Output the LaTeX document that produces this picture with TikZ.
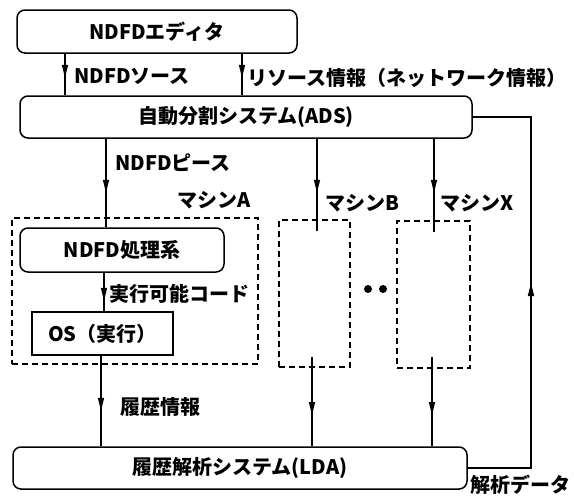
\documentclass[tikz,border=0pt]{standalone}
\usepackage{fontspec}
\setmainfont{Noto Sans CJK JP}
\usetikzlibrary{arrows.meta,decorations.markings}
\begin{document}
\begin{tikzpicture}[x=1pt,y=-1pt,
  every node/.style={font=\fontsize{20}{22}\selectfont\bfseries, inner sep=0pt},
  box/.style={draw, line width=1.5pt, rounded corners=8pt},
  sq/.style={draw, line width=1.5pt},
  mach/.style={draw, line width=1.3pt, dash pattern=on 6pt off 4pt},
  conn/.style={line width=1.3pt},
  mid/.style={postaction={decorate}, decoration={markings, mark=at position #1 with {\arrow{Triangle[length=13pt,width=6pt]}}}},
  lbl/.style={anchor=west}]
\useasboundingbox (0,0) rectangle (574,499);

% boxes
\node[box, minimum width=280pt, minimum height=43pt] (editor) at (157,31.5) {NDFDエディタ};
\node[box, minimum width=452pt, minimum height=42pt] (ads) at (246,117) {自動分割システム(ADS)};
\node[box, minimum width=454pt, minimum height=42pt] (lda) at (240,468) {履歴解析システム(LDA)};

\node[mach, minimum width=246pt, minimum height=146pt] (ma) at (135,291) {};
\node[mach, minimum width=71pt, minimum height=147pt] (mb) at (314.5,293.5) {};
\node[mach, minimum width=73pt, minimum height=147pt] (mx) at (433.5,294.5) {};

\node[box, minimum width=204pt, minimum height=44pt] (proc) at (122,250) {NDFD処理系};
\node[sq, minimum width=141pt, minimum height=43pt] (os) at (102.5,333.5) {OS（実行）};

% coordinates for connector x positions
\coordinate (xa) at (65,0);
\coordinate (xb) at (242,0);
\coordinate (xc) at (106,0);
\coordinate (xd) at (104,0);
\coordinate (xe) at (101,0);
\coordinate (bin) at (317,231);
\coordinate (xin) at (434,232);
\coordinate (bout) at (312,357);
\coordinate (xout) at (432,357);
\coordinate (fb) at (531,0);

% connectors
\draw[conn, mid=24pt] (editor.south -| xa) -- (ads.north -| xa);
\draw[conn, mid=24pt] (editor.south -| xb) -- (ads.north -| xb);
\draw[conn, mid=54pt] (ads.south -| xc) -- (proc.north -| xc);
\draw[conn, mid=54pt] (ads.south -| bin) -- (bin);
\draw[conn, mid=54pt] (ads.south -| xin) -- (xin);
\draw[conn, mid=28pt] (proc.south -| xd) -- (os.north -| xd);
\draw[conn, mid=55pt] (os.south -| xe) -- (lda.north -| xe);
\draw[conn, mid=58pt] (bout) -- (lda.north -| bout);
\draw[conn, mid=58pt] (xout) -- (lda.north -| xout);
\draw[conn, line join=miter] (lda.east) -- (lda.east -| fb) -- (ads.east -| fb) -- (ads.east);
\draw[conn, mid=185pt] (lda.east -| fb) -- (ads.east -| fb);

% labels
\node[lbl] (l1) at (74,76) {NDFDソース};
\node[lbl] (l2) at (247,78) {リソース情報（ネットワーク情報）};
\node[lbl] (l3) at (115,163) {NDFDピース};
\node[lbl] (l4) at (177,200) {マシンA};
\node[lbl] (l5) at (325,203) {マシンB};
\node[lbl] (l6) at (440,203) {マシンX};
\node[lbl] (l7) at (109,294) {実行可能コード};
\node[lbl] (l8) at (120,407) {履歴情報};
\node[lbl] (l9) at (470,485) {解析データ};

\fill (368,289) circle (4);
\fill (383,289) circle (4);
\end{tikzpicture}
\end{document}
